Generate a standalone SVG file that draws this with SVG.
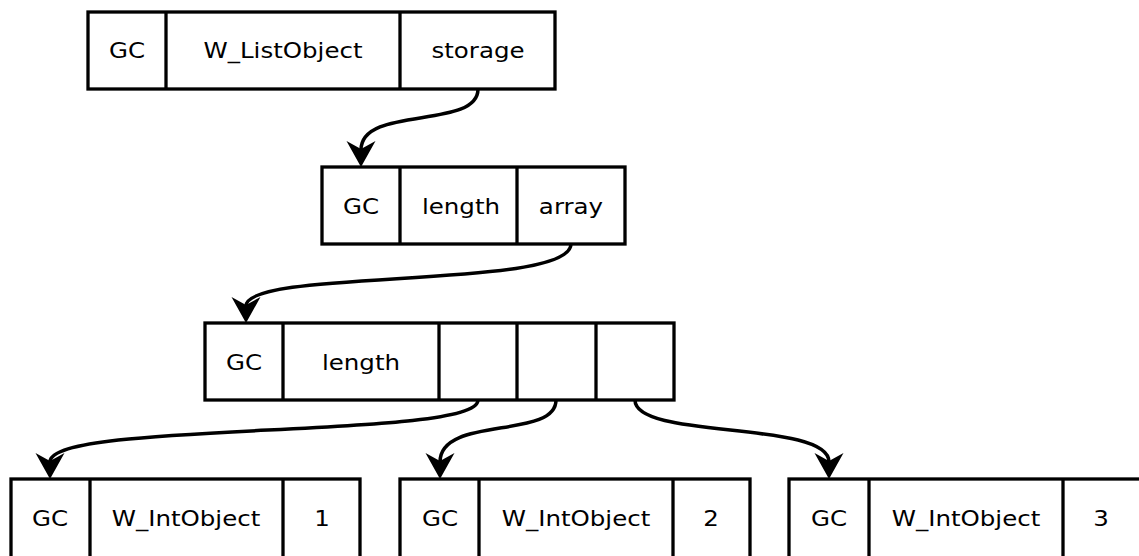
<svg xmlns="http://www.w3.org/2000/svg" width="1139" height="556" viewBox="0 0 1139 556">
<style>
.box{fill:#fff;stroke:#000;stroke-width:3.3}
.div{stroke:#000;stroke-width:3.3}
.t{font-family:"DejaVu Sans",sans-serif;font-size:21.5px;text-anchor:middle;fill:#000}
.c{fill:none;stroke:#000;stroke-width:3.5;marker-end:url(#ah)}
</style>
<defs>
<marker id="ah" markerUnits="userSpaceOnUse" viewBox="-28 -16 32 32" refX="-17" refY="0" markerWidth="32" markerHeight="32" orient="auto" overflow="visible">
<path d="M0,0 L-26,-14.5 L-18,0 L-26,14.5 Z" fill="#000"/>
</marker>
</defs>
<rect width="1139" height="556" fill="#fff"/>
<g id="listobject">
<rect class="box" x="88" y="12" width="467" height="77"/>
<line class="div" x1="166" y1="12" x2="166" y2="89"/>
<line class="div" x1="400" y1="12" x2="400" y2="89"/>
<text class="t" transform="translate(127,58) scale(1.14,1)">GC</text>
<text class="t" transform="translate(283,58) scale(1.14,1)">W_ListObject</text>
<text class="t" transform="translate(478,58) scale(1.14,1)">storage</text>
</g>
<g id="storage">
<rect class="box" x="322" y="167" width="303" height="77"/>
<line class="div" x1="400" y1="167" x2="400" y2="244"/>
<line class="div" x1="517" y1="167" x2="517" y2="244"/>
<text class="t" transform="translate(361,214) scale(1.14,1)">GC</text>
<text class="t" transform="translate(461,214) scale(1.14,1)">length</text>
<text class="t" transform="translate(571,214) scale(1.14,1)">array</text>
</g>
<g id="array">
<rect class="box" x="205" y="323" width="469" height="77"/>
<line class="div" x1="283" y1="323" x2="283" y2="400"/>
<line class="div" x1="439" y1="323" x2="439" y2="400"/>
<line class="div" x1="517" y1="323" x2="517" y2="400"/>
<line class="div" x1="596" y1="323" x2="596" y2="400"/>
<text class="t" transform="translate(244,370) scale(1.14,1)">GC</text>
<text class="t" transform="translate(361,370) scale(1.14,1)">length</text>
</g>
<g id="int1">
<rect class="box" x="11" y="479" width="349" height="80"/>
<line class="div" x1="90" y1="479" x2="90" y2="559"/>
<line class="div" x1="283" y1="479" x2="283" y2="559"/>
<text class="t" transform="translate(50,526) scale(1.14,1)">GC</text>
<text class="t" transform="translate(186,526) scale(1.14,1)">W_IntObject</text>
<text class="t" transform="translate(322,526) scale(1.14,1)">1</text>
</g>
<g id="int2">
<rect class="box" x="400" y="479" width="350" height="80"/>
<line class="div" x1="479" y1="479" x2="479" y2="559"/>
<line class="div" x1="673" y1="479" x2="673" y2="559"/>
<text class="t" transform="translate(440,526) scale(1.14,1)">GC</text>
<text class="t" transform="translate(576,526) scale(1.14,1)">W_IntObject</text>
<text class="t" transform="translate(711,526) scale(1.14,1)">2</text>
</g>
<g id="int3">
<rect class="box" x="789" y="479" width="353" height="80"/>
<line class="div" x1="869" y1="479" x2="869" y2="559"/>
<line class="div" x1="1063" y1="479" x2="1063" y2="559"/>
<text class="t" transform="translate(829,526) scale(1.14,1)">GC</text>
<text class="t" transform="translate(966,526) scale(1.14,1)">W_IntObject</text>
<text class="t" transform="translate(1101,526) scale(1.14,1)">3</text>
</g>
<g id="connectors">
<path class="c" d="M478,89 C478,130 361,105 361,150"/>
<path class="c" d="M571,244 C571,290 246,268 246,306"/>
<path class="c" d="M478,400 C478,440 50,420 50,462"/>
<path class="c" d="M556,400 C556,440 440,415 440,462"/>
<path class="c" d="M635,400 C635,440 829,420 829,462"/>
</g>
</svg>
